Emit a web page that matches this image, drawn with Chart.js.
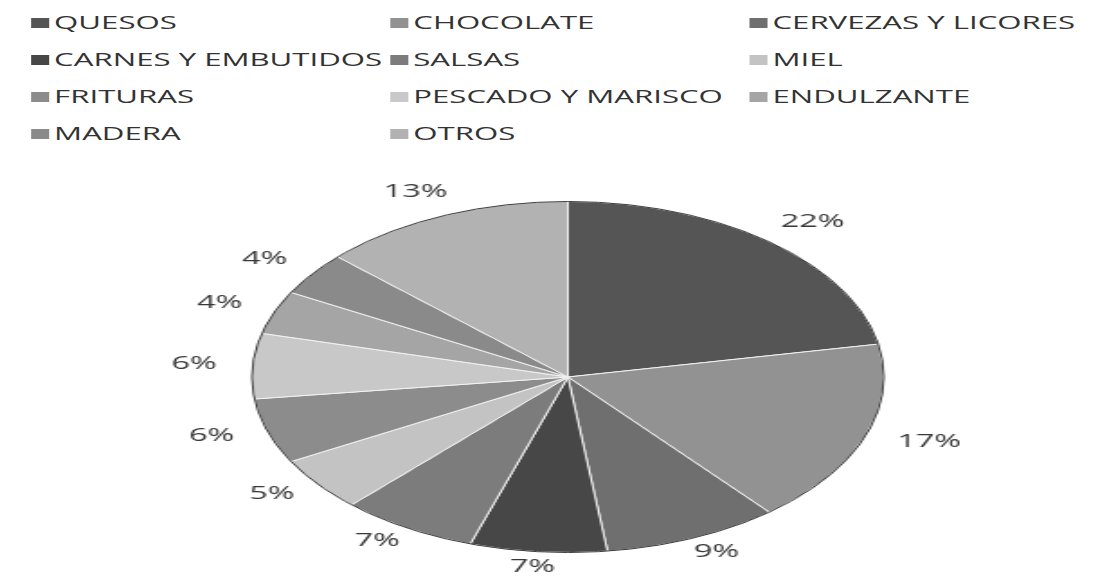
<!DOCTYPE html>
<html>
<head>
<meta charset="utf-8">
<script src="https://cdn.jsdelivr.net/npm/chart.js@4.4.1/dist/chart.umd.min.js"></script>
<style>
body { margin: 0; background: #fff; width: 1107px; height: 580px; overflow: hidden; position: relative; font-family: "Open Sans", sans-serif; }
#legend { position: absolute; left: 0; top: 0; width: 690px; height: 160px; transform: scaleX(1.64); transform-origin: 0 0; }
.item { position: absolute; white-space: nowrap; font-size: 19px; line-height: 20px; color: #333333; }
.box { display: inline-block; width: 11px; height: 10px; margin-right: 3px; vertical-align: 1px; }
#wrap { position: absolute; left: 0; top: 0; width: 615px; height: 580px; transform: scaleX(1.8); transform-origin: 0 0; }
</style>
</head>
<body>
<div id="legend"></div>
<div id="wrap"><canvas id="pie-chart" width="615" height="580" style="width:615px;height:580px"></canvas></div>
<script>
// categories in slice order (clockwise from 12 o'clock)
var categories = ["QUESOS", "CHOCOLATE", "CERVEZAS Y LICORES", "CARNES Y EMBUTIDOS", "SALSAS", "MIEL",
                  "FRITURAS", "PESCADO Y MARISCO", "ENDULZANTE", "MADERA", "OTROS"];
var shares = [22, 17, 9, 7, 7, 5, 6, 6, 4, 4, 13];
var greys = ["#555555", "#929292", "#6f6f6f", "#474747", "#7c7c7c", "#c3c3c3",
             "#8c8c8c", "#c8c8c8", "#a5a5a5", "#8a8a8a", "#b2b2b2"];

/********************** legend (3 columns) **********************/
var legendEl = document.getElementById("legend");
var colX = [19, 238, 457];
for (var i = 0; i < categories.length; i++) {
    var d = document.createElement("div");
    d.className = "item";
    d.style.left = colX[i % 3] + "px";
    d.style.top = (12 + Math.floor(i / 3) * 37) + "px";
    d.innerHTML = '<span class="box" style="background:' + greys[i] + '"></span>' + categories[i];
    legendEl.appendChild(d);
}

/********************** percent labels outside the pie **********************/
const pctLabels = {
    id: "pctLabels",
    afterDatasetsDraw(chart) {
        const ctx = chart.ctx;
        const meta = chart.getDatasetMeta(0);
        ctx.save();
        // dark outer rim
        const a0 = meta.data[0];
        ctx.beginPath();
        ctx.arc(a0.x, a0.y, a0.outerRadius, 0, Math.PI * 2);
        ctx.strokeStyle = "#3a3a3a";
        ctx.lineWidth = 1;
        ctx.stroke();

        ctx.font = '18px "Open Sans"';
        ctx.fillStyle = "#383838";
        ctx.textAlign = "center";
        ctx.textBaseline = "middle";
        meta.data.forEach((arc, idx) => {
            const mid = (arc.startAngle + arc.endAngle) / 2;
            const dx = Math.cos(mid), dy = Math.sin(mid);
            const txt = shares[idx] + "%";
            const hw = ctx.measureText(txt).width / 2;
            const gx = arc.outerRadius + 20;
            const gy = arc.outerRadius + (dy < 0 ? 18 : 7);
            ctx.fillText(txt, arc.x + dx * gx + dx * hw, arc.y + dy * gy + dy * 8);
        });
        ctx.restore();
    }
};

var chart0 = document.getElementById("pie-chart");
var mychart0 = new Chart(chart0, {
    type: "pie",
    data: {
        labels: categories,
        datasets: [{
            data: shares,
            backgroundColor: greys,
            borderColor: "#f2f2f2",
            borderWidth: 1
        }]
    },
    options: {
        responsive: false,
        animation: false,
        layout: { padding: { top: 201, bottom: 27, left: 16, right: 0 } },
        plugins: {
            legend: { display: false },
            tooltip: { enabled: false }
        }
    },
    plugins: [pctLabels]
});
</script>
</body>
</html>
